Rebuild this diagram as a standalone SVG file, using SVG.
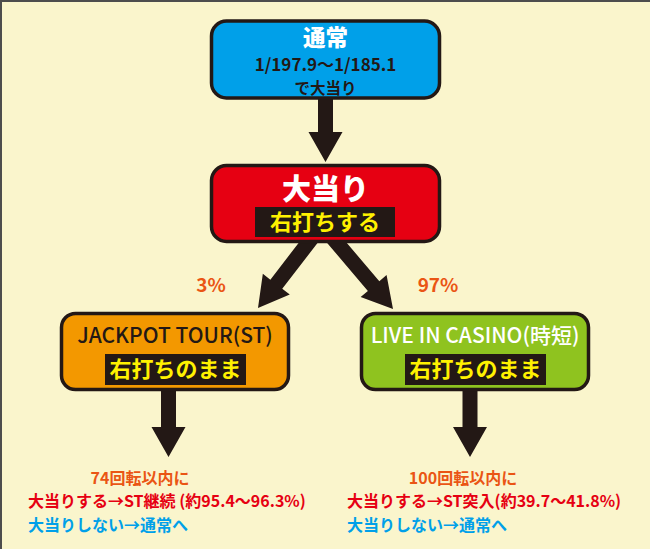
<svg xmlns="http://www.w3.org/2000/svg" width="650" height="549" viewBox="0 0 650 549">
<style>
text{font-family:"Noto Sans CJK JP","Noto Sans",sans-serif;text-anchor:middle}
.box{stroke:#231815;stroke-width:3.5}
.tag{fill:#231815}
.yel{fill:#fff100;font-size:22px;font-weight:700}
.pct{fill:#ea5514;font-size:19px;font-weight:700}
.note text{font-size:16px;font-weight:700;text-anchor:start}
.note .n1{fill:#ea5514;text-anchor:middle}
.n2{fill:#e60012}
.n3{fill:#00a0e9}
.conn{fill:#231815}
.lbl{font-size:21px;font-weight:500}
</style>
<defs>
<path id="arrow" d="M-7.5,-115 L7.5,-115 L7.5,-30 L17,-30 L0,0 L-17,-30 L-7.5,-30 Z"/>
</defs>
<rect x="0" y="0" width="650" height="549" fill="#faf5cc"/>
<path d="M1,549 L1,1 L650,1" fill="none" stroke="#4d4d4d" stroke-width="2"/>
<g id="connectors" class="conn">
<use href="#arrow" transform="translate(325.5,162)"/>
<use href="#arrow" transform="translate(258,308) rotate(37.6)"/>
<use href="#arrow" transform="translate(393,309) rotate(-40.3)"/>
<use href="#arrow" transform="translate(168.5,457)"/>
<use href="#arrow" transform="translate(470,457)"/>
</g>
<g id="node-normal">
<rect class="box" x="211.5" y="21" width="228" height="77" rx="15" fill="#00a0e9"/>
<text x="325.5" y="46" fill="#fff" font-size="22.5" font-weight="900">通常</text>
<text x="325.5" y="70.5" fill="#231815" font-size="17" font-weight="700">1/197.9～1/185.1</text>
<text x="325.5" y="93.5" fill="#231815" font-size="15.5" font-weight="700">で大当り</text>
</g>
<g id="node-hit">
<rect class="box" x="211.5" y="165.5" width="228" height="76" rx="15" fill="#e60012"/>
<text x="325.5" y="200" fill="#fff" font-size="29" font-weight="900">大当り</text>
<rect class="tag" x="255" y="207" width="140" height="30"/>
<text class="yel" x="325" y="230">右打ちする</text>
</g>
<text class="pct" x="211" y="292">3%</text>
<text class="pct" x="438" y="292">97%</text>
<g id="node-jackpot">
<rect class="box" x="61.5" y="313.5" width="227" height="76" rx="14" fill="#f39800"/>
<text class="lbl" x="175" y="343" fill="#231815">JACKPOT TOUR(ST)</text>
<rect class="tag" x="105" y="354" width="141" height="31"/>
<text class="yel" x="175.5" y="377">右打ちのまま</text>
</g>
<g id="node-casino">
<rect class="box" x="361.5" y="313.5" width="227" height="76" rx="14" fill="#8fc31f"/>
<text class="lbl" x="475" y="343" fill="#fff">LIVE IN CASINO(時短)</text>
<rect class="tag" x="405" y="354" width="141" height="31"/>
<text class="yel" x="475.5" y="377">右打ちのまま</text>
</g>
<g id="result-st" class="note">
<text class="n1" x="140" y="484">74回転以内に</text>
<text class="n2" x="28" y="507">大当りする→ST継続 (約95.4～96.3%)</text>
<text class="n3" x="28" y="531">大当りしない→通常へ</text>
</g>
<g id="result-jitan" class="note">
<text class="n1" x="463" y="484">100回転以内に</text>
<text class="n2" x="347" y="507">大当りする→ST突入(約39.7～41.8%)</text>
<text class="n3" x="347" y="531">大当りしない→通常へ</text>
</g>
</svg>
